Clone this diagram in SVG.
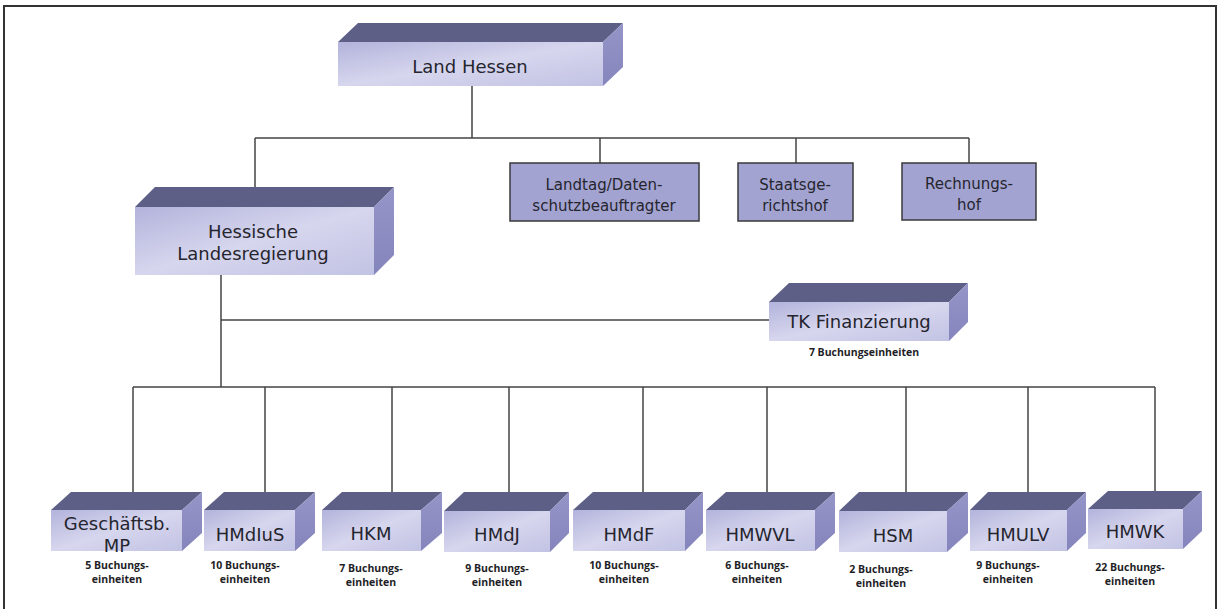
<svg xmlns="http://www.w3.org/2000/svg" width="1220" height="609" viewBox="0 0 1220 609">
<defs>
<linearGradient id="front" x1="0" y1="0" x2="1" y2="1">
<stop offset="0" stop-color="#b3b3dc"/>
<stop offset="0.5" stop-color="#d6d6ee"/>
<stop offset="1" stop-color="#c2c2e4"/>
</linearGradient>
<linearGradient id="side" x1="0" y1="0" x2="0" y2="1">
<stop offset="0" stop-color="#9595c8"/>
<stop offset="1" stop-color="#8585bd"/>
</linearGradient>
<style>
.top{fill:#5d5f87}
.front{fill:url(#front)}
.side{fill:url(#side)}
.flat{fill:#a3a3d1;stroke:#3a3a3a;stroke-width:1.5}
.t{font-family:"DejaVu Sans",Verdana,sans-serif;fill:#25252e;text-anchor:middle}
.big{font-size:18px}
.mid{font-size:15px}
.lab{font-family:"Open Sans","Liberation Sans",sans-serif;font-weight:bold;font-size:10.5px;fill:#1e1e26;text-anchor:middle}
.c{stroke:#444;stroke-width:1.5;fill:none}
</style>
</defs>
<rect x="4" y="6" width="1212" height="620" fill="#fff" stroke="#333" stroke-width="2"/>

<g id="connectors">
<path class="c" d="M472 86V138M255 138H969M255 138V187M600 138V163M796 138V163M969 138V163"/>
<path class="c" d="M221 275V387M221 320H770M133 387H1155"/>
<path class="c" d="M133 387V492M265 387V492M392 387V492M509 387V492M643 387V492M767 387V492M906 387V492M1028 387V492M1155 387V492"/>
</g>

<g id="land-hessen">
<polygon class="top" points="338,42 358,23 623,23 603,42"/>
<polygon class="side" points="603,42 623,23 623,67 603,86"/>
<rect class="front" x="338" y="42" width="265" height="44"/>
<text class="t big" x="470" y="73">Land Hessen</text>
</g>

<g id="hessische-landesregierung">
<polygon class="top" points="135,207 155,187 394,187 374,207"/>
<polygon class="side" points="374,207 394,187 394,255 374,275"/>
<rect class="front" x="135" y="207" width="239" height="68"/>
<text class="t big" x="253" y="238">Hessische</text>
<text class="t big" x="253" y="260">Landesregierung</text>
</g>

<g id="landtag">
<rect class="flat" x="510" y="163" width="189" height="58"/>
<text class="t mid" x="604" y="190">Landtag/Daten-</text>
<text class="t mid" x="604" y="211">schutzbeauftragter</text>
</g>

<g id="staatsgerichtshof">
<rect class="flat" x="738" y="163" width="115" height="58"/>
<text class="t mid" x="795" y="190">Staatsge-</text>
<text class="t mid" x="795" y="211">richtshof</text>
</g>

<g id="rechnungshof">
<rect class="flat" x="902" y="163" width="134" height="57"/>
<text class="t mid" x="969" y="189">Rechnungs-</text>
<text class="t mid" x="969" y="210">hof</text>
</g>

<g id="tk-finanzierung">
<polygon class="top" points="769,302 789,283 968,283 949,302"/>
<polygon class="side" points="949,302 968,283 968,322 949,341"/>
<rect class="front" x="769" y="302" width="180" height="39"/>
<text class="t big" x="859" y="328">TK Finanzierung</text>
<text class="lab" x="864" y="356">7 Buchungseinheiten</text>
</g>

<g id="geschaeftsb-mp">
<polygon class="top" points="51,510 71,492 202,492 182,510"/>
<polygon class="side" points="182,510 202,492 202,533 182,551"/>
<rect class="front" x="51" y="510" width="131" height="41"/>
<text class="t big" x="117" y="530">Geschäftsb.</text>
<text class="t big" x="117" y="552">MP</text>
<text class="lab" x="117" y="569">5 Buchungs-</text>
<text class="lab" x="117" y="583">einheiten</text>
</g>

<g id="hmdius">
<polygon class="top" points="204,510 224,492 315,492 295,510"/>
<polygon class="side" points="295,510 315,492 315,533 295,551"/>
<rect class="front" x="204" y="510" width="91" height="41"/>
<text class="t big" x="250" y="541">HMdIuS</text>
<text class="lab" x="245" y="569">10 Buchungs-</text>
<text class="lab" x="245" y="583">einheiten</text>
</g>

<g id="hkm">
<polygon class="top" points="322,510 342,492 442,492 421,510"/>
<polygon class="side" points="421,510 442,492 442,533 421,551"/>
<rect class="front" x="322" y="510" width="99" height="41"/>
<text class="t big" x="371" y="540">HKM</text>
<text class="lab" x="371" y="572">7 Buchungs-</text>
<text class="lab" x="371" y="586">einheiten</text>
</g>

<g id="hmdj">
<polygon class="top" points="444,511 464,492 569,492 550,511"/>
<polygon class="side" points="550,511 569,492 569,533 550,552"/>
<rect class="front" x="444" y="511" width="106" height="41"/>
<text class="t big" x="497" y="541">HMdJ</text>
<text class="lab" x="497" y="572">9 Buchungs-</text>
<text class="lab" x="497" y="586">einheiten</text>
</g>

<g id="hmdf">
<polygon class="top" points="573,510 593,492 703,492 685,510"/>
<polygon class="side" points="685,510 703,492 703,533 685,551"/>
<rect class="front" x="573" y="510" width="112" height="41"/>
<text class="t big" x="629" y="541">HMdF</text>
<text class="lab" x="624" y="569">10 Buchungs-</text>
<text class="lab" x="624" y="583">einheiten</text>
</g>

<g id="hmwvl">
<polygon class="top" points="706,510 726,492 835,492 815,510"/>
<polygon class="side" points="815,510 835,492 835,533 815,551"/>
<rect class="front" x="706" y="510" width="109" height="41"/>
<text class="t big" x="760" y="541">HMWVL</text>
<text class="lab" x="757" y="569">6 Buchungs-</text>
<text class="lab" x="757" y="583">einheiten</text>
</g>

<g id="hsm">
<polygon class="top" points="839,511 859,492 968,492 947,511"/>
<polygon class="side" points="947,511 968,492 968,533 947,552"/>
<rect class="front" x="839" y="511" width="108" height="41"/>
<text class="t big" x="893" y="542">HSM</text>
<text class="lab" x="881" y="573">2 Buchungs-</text>
<text class="lab" x="881" y="587">einheiten</text>
</g>

<g id="hmulv">
<polygon class="top" points="970,510 988,492 1086,492 1067,510"/>
<polygon class="side" points="1067,510 1086,492 1086,533 1067,551"/>
<rect class="front" x="970" y="510" width="97" height="41"/>
<text class="t big" x="1018" y="541">HMULV</text>
<text class="lab" x="1008" y="569">9 Buchungs-</text>
<text class="lab" x="1008" y="583">einheiten</text>
</g>

<g id="hmwk">
<polygon class="top" points="1088,509 1108,491 1202,491 1183,509"/>
<polygon class="side" points="1183,509 1202,491 1202,531 1183,549"/>
<rect class="front" x="1088" y="509" width="95" height="40"/>
<text class="t big" x="1135" y="538">HMWK</text>
<text class="lab" x="1130" y="571">22 Buchungs-</text>
<text class="lab" x="1130" y="585">einheiten</text>
</g>
</svg>
